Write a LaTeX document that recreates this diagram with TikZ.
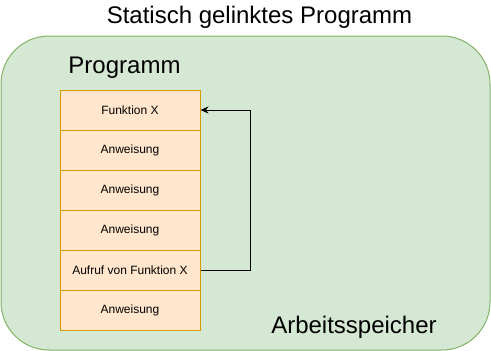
\documentclass[tikz,border=0pt]{standalone}
\usepackage{fontspec}
\setmainfont{Liberation Sans}
\usetikzlibrary{arrows.meta}
\definecolor{memfill}{HTML}{D5E8D4}
\definecolor{memline}{HTML}{82B366}
\definecolor{boxfill}{HTML}{FFE6CC}
\definecolor{boxline}{HTML}{D79B00}
\begin{document}
\begin{tikzpicture}[x=1pt,y=-1pt,
  rowbox/.style={draw=boxline, fill=boxfill, line width=1pt, minimum width=140pt, minimum height=40pt, inner sep=0pt, font=\fontsize{12}{14}\selectfont},
  bigtext/.style={font=\fontsize{24}{28}\selectfont, anchor=base, inner sep=0pt},
  link/.style={line width=1pt, -{Stealth[length=8pt,width=7pt]}}]
\useasboundingbox (0,0) rectangle (491,351);
\node[draw=memline, fill=memfill, line width=1pt, rounded corners=48pt, minimum width=489pt, minimum height=314pt, inner sep=0pt] (mem) at (245.5,193) {};
\node[bigtext] (title) at (259.5,23) {Statisch gelinktes Programm};
\node[bigtext] (prog) at (124.5,73) {Programm};
\node[bigtext] (ram) at (354,333) {Arbeitsspeicher};
\node[rowbox] (r1) at (130,110) {Funktion X};
\node[rowbox] (r2) at (130,150) {Anweisung};
\node[rowbox] (r3) at (130,190) {Anweisung};
\node[rowbox] (r4) at (130,230) {Anweisung};
\node[rowbox] (r5) at (130,270) {Aufruf von Funktion X};
\node[rowbox] (r6) at (130,310) {Anweisung};
\draw[link] (r5.east) -- ++(50,0) |- (r1.east);
\end{tikzpicture}
\end{document}
